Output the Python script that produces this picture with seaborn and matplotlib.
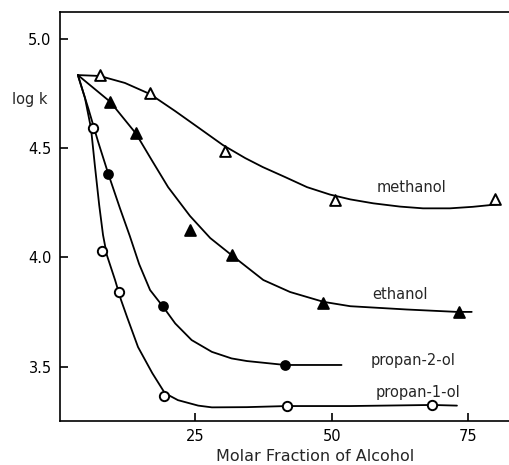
import numpy as np
import pandas as pd
import matplotlib
matplotlib.use('Agg')
import matplotlib.pyplot as plt
import seaborn as sns

meoh_x = [7.6, 16.8, 30.5, 50.6, 79.8]
meoh_y = [4.835, 4.751, 4.488, 4.263, 4.266]

etoh_x = [9.5, 14.2, 24.1, 31.7, 48.5, 73.2]
etoh_y = [4.713, 4.571, 4.125, 4.011, 3.793, 3.752]

prop2_x = [9.2, 19.2, 41.5]
prop2_y = [4.380, 3.777, 3.508]

prop1_x = [6.3, 8.0, 11.2, 19.4, 41.8, 68.3]
prop1_y = [4.591, 4.031, 3.843, 3.367, 3.320, 3.325]

# ── Hand-drawn fitted curves ──
meoh_cx = [3.6, 7.6, 12.2, 16.8, 21.4, 25.9, 30.1, 34.2, 37.4, 41.5, 45.5,
           49.7, 53.4, 57.6, 62.5, 66.7, 71.6, 75.8, 80.2]
meoh_cy = [4.835, 4.831, 4.799, 4.748, 4.670, 4.590, 4.515, 4.455, 4.414,
           4.368, 4.322, 4.288, 4.266, 4.248, 4.233, 4.225, 4.225, 4.232, 4.243]

etoh_cx = [3.6, 9.5, 14.2, 17.1, 20.1, 24.1, 27.8, 31.7, 37.5, 42.4, 48.5,
           53.4, 63.7, 72.9, 75.6]
etoh_cy = [4.835, 4.713, 4.568, 4.446, 4.322, 4.190, 4.089, 4.011, 3.897,
           3.842, 3.797, 3.777, 3.762, 3.751, 3.751]

prop2_cx = [3.6, 5.5, 7.3, 9.2, 11.3, 13.1, 14.8, 16.8, 19.2, 21.4, 24.4,
            28.1, 31.7, 34.5, 41.5, 51.8]
prop2_cy = [4.835, 4.683, 4.530, 4.380, 4.225, 4.098, 3.970, 3.851, 3.774,
            3.698, 3.622, 3.568, 3.538, 3.526, 3.508, 3.508]

prop1_cx = [3.6, 4.9, 6.0, 6.7, 7.5, 8.2, 8.9, 10.4, 11.5, 12.6, 14.6, 17.2,
            19.5, 21.9, 25.6, 28.1, 34.5, 41.8, 53.4, 68.4, 72.9]
prop1_cy = [4.835, 4.730, 4.592, 4.423, 4.240, 4.103, 4.011, 3.897, 3.805,
            3.727, 3.590, 3.471, 3.379, 3.347, 3.322, 3.314, 3.315, 3.320,
            3.320, 3.325, 3.322]

labels = ['methanol', 'ethanol', 'propan-2-ol', 'propan-1-ol']
label_x = [64.6, 62.4, 64.9, 65.8]
label_y = [4.319, 3.832, 3.527, 3.380]

sns.set_style('ticks')
plt.rcParams['font.family'] = ['DejaVu Sans']

fig = plt.figure(figsize=(5.1, 4.65), dpi=100)
ax = fig.add_axes([0.1176, 0.0953, 0.8824, 0.879])

curves = [(meoh_cx, meoh_cy), (etoh_cx, etoh_cy),
          (prop2_cx, prop2_cy), (prop1_cx, prop1_cy)]
for cx, cy in curves:
    df = pd.DataFrame({'x': cx, 'y': cy})
    sns.lineplot(data=df, x='x', y='y', ax=ax, color='black',
                 linewidth=1.3, estimator=None, sort=False)

# markers: open / filled triangles and circles
points = [(meoh_x, meoh_y, '^', 'white', 60),
          (etoh_x, etoh_y, '^', 'black', 60),
          (prop2_x, prop2_y, 'o', 'black', 40),
          (prop1_x, prop1_y, 'o', 'white', 45)]
for px, py, m, fc, s in points:
    df = pd.DataFrame({'x': px, 'y': py})
    sns.scatterplot(data=df, x='x', y='y', ax=ax, marker=m, s=s,
                    facecolor=fc, edgecolor='black', linewidth=1.4,
                    zorder=3)

for lab, lx, ly in zip(labels, label_x, label_y):
    ax.text(lx, ly, lab, ha='center', va='center', fontsize=10.5)

ax.set_xlim(0.33, 82.6)
ax.set_ylim(3.253, 5.124)
ax.set_xticks([25, 50, 75])
ax.set_yticks([3.5, 4.0, 4.5, 5.0])
ax.set_yticklabels(['3.5', '4.0', '4.5', '5.0'])
ax.tick_params(direction='in', length=6, width=1.2, labelsize=10.5,
               pad=6, colors='black')
for side in ['left', 'bottom', 'top']:
    ax.spines[side].set_linewidth(1.2)
    ax.spines[side].set_color('black')
ax.spines['right'].set_visible(False)

ax.set_xlabel('Molar Fraction of Alcohol', fontsize=11.5, va='center')
ax.xaxis.set_label_coords(0.568, -0.087)
ax.set_ylabel('log k', fontsize=10.5, rotation=0, ha='center', va='center')
ax.yaxis.set_label_coords(-0.067, 0.785)

fig.savefig('out.png', dpi=100)
